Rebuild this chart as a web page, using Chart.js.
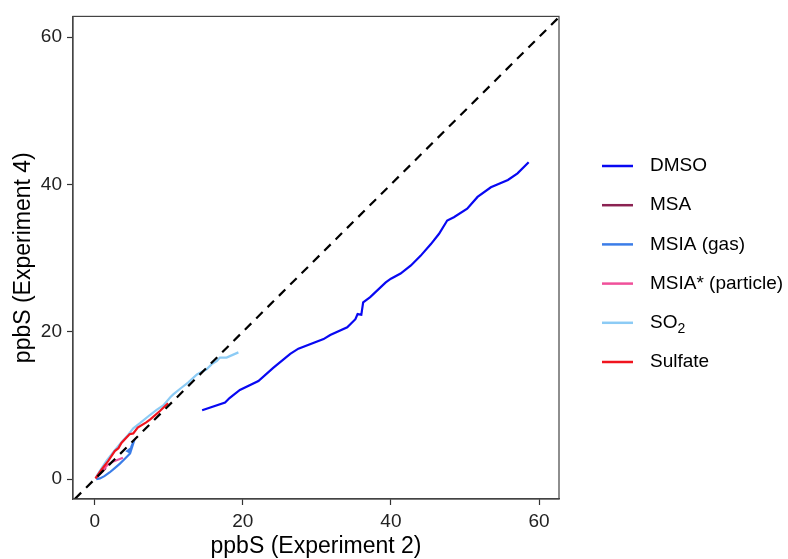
<!DOCTYPE html>
<html>
<head>
<meta charset="utf-8">
<script src="https://cdn.jsdelivr.net/npm/chart.js@4/dist/chart.umd.min.js"></script>
<style>
  body { margin: 0; background: #fff; }
  canvas { display: block; }
</style>
</head>
<body>
<canvas id="chart" width="788" height="559"></canvas>
<script>
// series (ppbS, experiment 2 vs experiment 4)
var dmsoX = [14.5, 17.6, 18.2, 19.6, 22.1, 24.1, 26.4, 27.5, 30.9, 31.8, 34.1, 35.2, 35.5, 36.0, 36.25, 37.2, 39.3, 40.0, 41.3, 42.7, 44.0, 45.4, 46.5, 47.6, 48.5, 50.3, 51.7, 53.5, 55.8, 57.1, 58.6];
var dmsoY = [9.35, 10.4, 11.0, 12.1, 13.3, 15.1, 17.0, 17.7, 19.0, 19.55, 20.6, 21.7, 22.4, 22.3, 24.0, 24.7, 26.7, 27.2, 27.9, 29.0, 30.3, 31.9, 33.3, 35.1, 35.55, 36.7, 38.3, 39.6, 40.6, 41.5, 43.0];

var msaX = [0.1, 0.5, 1.0, 1.5];
var msaY = [0.1, 0.5, 1.0, 1.5];

var msiaGasX = [0.2, 0.7, 1.3, 2.0, 2.7, 3.4, 4.0, 4.7, 4.9, 4.4, 4.8, 5.15, 4.9, 5.2];
var msiaGasY = [0.0, 0.1, 0.4, 0.9, 1.5, 2.1, 2.7, 3.4, 4.2, 3.8, 3.6, 4.7, 4.3, 5.0];

var msiaPartX = [0.3, 0.9, 1.7, 2.5, 3.3, 3.8];
var msiaPartY = [0.3, 1.0, 1.9, 2.4, 2.7, 2.9];

var so2X = [0.2, 0.8, 1.6, 2.6, 3.6, 4.5, 5.2, 6.1, 7.45, 8.35, 9.25, 10.2, 10.6, 11.7, 12.6, 13.8, 15.1, 15.8, 16.5, 16.9, 17.8, 19.4];
var so2Y = [0.3, 1.3, 2.5, 3.8, 5.0, 6.0, 6.9, 7.6, 8.7, 9.4, 10.0, 11.1, 11.5, 12.4, 13.1, 14.2, 14.9, 15.6, 16.05, 16.5, 16.5, 17.2];

var sulfateX = [0.1, 0.9, 1.8, 2.7, 3.2, 3.6, 4.7, 5.2, 5.8, 6.95, 7.5, 8.8, 9.9];
var sulfateY = [0.1, 1.3, 2.45, 3.8, 4.2, 4.9, 6.1, 6.2, 7.0, 7.7, 8.1, 9.25, 10.3];

var oneToOne = [-2.7, 70];

var xTicks = [0, 20, 40, 60];
var yTicks = [0, 20, 40, 60];

var labels = ['DMSO', 'MSA', 'MSIA (gas)', 'MSIA* (particle)', 'SO\u2082', 'Sulfate'];
var colors = ['#0808F2', '#8B2252', '#3B7DE8', '#F0509A', '#8CCBF5', '#F0141E'];
var seriesX = [dmsoX, msaX, msiaGasX, msiaPartX, so2X, sulfateX];
var seriesY = [dmsoY, msaY, msiaGasY, msiaPartY, so2Y, sulfateY];

function pairs(xs, ys) {
    return xs.map(function (x, i) { return { x: x, y: ys[i] }; });
}

var FONT = 'Liberation Sans, Arial, sans-serif';

var datasets = labels.map(function (name, i) {
    return {
        label: name,
        data: pairs(seriesX[i], seriesY[i]),
        borderColor: colors[i],
        backgroundColor: colors[i],
        borderWidth: 2.2,
        pointRadius: 0,
        showLine: true,
        tension: 0,
        order: labels.length - i
    };
});

datasets.push({
    label: '',
    data: pairs(oneToOne, oneToOne),
    borderColor: '#000',
    borderWidth: 2.2,
    borderDash: [9, 7],
    pointRadius: 0,
    showLine: true,
    order: 0
});

// full box around the panel
var panelBox = {
    id: 'panelBox',
    afterDatasetsDraw: function (chart) {
        var a = chart.chartArea, ctx = chart.ctx;
        ctx.save();
        ctx.strokeStyle = '#444';
        ctx.lineWidth = 1.2;
        ctx.strokeRect(a.left, a.top, a.right - a.left, a.bottom - a.top);
        ctx.restore();
    }
};

// ggplot-like legend on the right
var sideLegend = {
    id: 'sideLegend',
    afterDraw: function (chart) {
        var ctx = chart.ctx;
        ctx.save();
        ctx.textBaseline = 'middle';
        ctx.fillStyle = '#000';
        chart.data.datasets.forEach(function (ds, i) {
            if (!ds.label) return;
            var y = 166 + i * 39.2;
            ctx.strokeStyle = ds.borderColor;
            ctx.lineWidth = 2.5;
            ctx.beginPath();
            ctx.moveTo(602, y);
            ctx.lineTo(633, y);
            ctx.stroke();
            ctx.font = '19px ' + FONT;
            if (ds.label.indexOf('\u2082') > -1) {
                var base = ds.label.replace('\u2082', '');
                ctx.fillText(base, 650, y);
                var w = ctx.measureText(base).width;
                ctx.font = '14px ' + FONT;
                ctx.fillText('2', 650 + w, y + 6);
            } else {
                ctx.fillText(ds.label, 650, y);
            }
        });
        ctx.restore();
    }
};

var ctx = document.getElementById('chart').getContext('2d');
new Chart(ctx, {
    type: 'scatter',
    data: { datasets: datasets },
    options: {
        responsive: false,
        animation: false,
        devicePixelRatio: 1,
        layout: { padding: { top: 15, right: 229, bottom: 0, left: 0 } },
        plugins: {
            legend: { display: false },
            tooltip: { enabled: false }
        },
        scales: {
            x: {
                type: 'linear',
                min: -2.94,
                max: 62.7,
                afterBuildTicks: function (s) { s.ticks = xTicks.map(function (v) { return { value: v }; }); },
                afterFit: function (s) { s.height = 60; },
                grid: { drawOnChartArea: false, tickLength: 6, color: '#333', tickWidth: 1.2 },
                border: { color: '#444', width: 1.2 },
                ticks: { color: '#222', font: { size: 19, family: FONT }, padding: 5, maxRotation: 0 },
                title: { display: true, text: 'ppbS (Experiment 2)', color: '#000', font: { size: 23, family: FONT, lineHeight: 1 }, padding: { top: 0, bottom: 1 } }
            },
            y: {
                type: 'linear',
                min: -2.7,
                max: 62.8,
                afterBuildTicks: function (s) { s.ticks = yTicks.map(function (v) { return { value: v }; }); },
                afterFit: function (s) { s.width = 73; },
                grid: { drawOnChartArea: false, tickLength: 6, color: '#333', tickWidth: 1.2 },
                border: { color: '#444', width: 1.2 },
                ticks: { color: '#222', font: { size: 19, family: FONT }, padding: 5 },
                title: { display: true, text: 'ppbS (Experiment 4)', color: '#000', font: { size: 23, family: FONT, lineHeight: 1 }, padding: { top: 12, bottom: 0 } }
            }
        }
    },
    plugins: [panelBox, sideLegend]
});
</script>
</body>
</html>
